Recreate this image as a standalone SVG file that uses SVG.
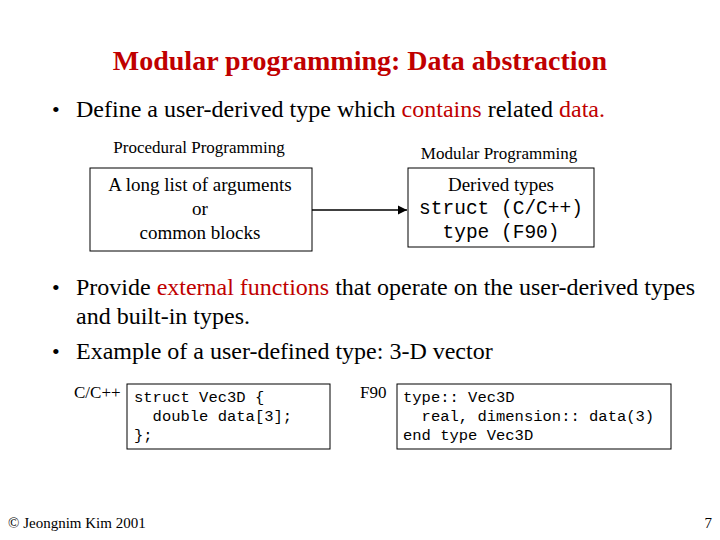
<svg xmlns="http://www.w3.org/2000/svg" width="720" height="540" viewBox="0 0 720 540">
<style>
.s{font-family:"Liberation Serif",serif;fill:#000}
.m{font-family:"Liberation Mono",monospace;fill:#000;white-space:pre}
.r{fill:#c00000}
.b{fill:#fff;stroke:#000;stroke-width:1}
</style>
<defs><marker id="a" viewBox="0 0 10 10" refX="10" refY="5" markerWidth="7" markerHeight="7" orient="auto"><path d="M0,0L10,5L0,10z" fill="#000"/></marker></defs>
<rect width="720" height="540" fill="#fff"/>
<text x="360" y="70" text-anchor="middle" class="s" font-size="28" font-weight="bold" style="fill:#c00000">Modular programming: Data abstraction</text>
<text x="52" y="117" class="s" font-size="22">•</text>
<text x="76" y="117" class="s" font-size="24" textLength="529">Define a user-derived type which <tspan class="r">contains</tspan> related <tspan class="r">data.</tspan></text>
<text x="199" y="153" text-anchor="middle" class="s" font-size="17">Procedural Programming</text>
<text x="499" y="159" text-anchor="middle" class="s" font-size="17">Modular Programming</text>
<g id="proc"><rect class="b" x="90" y="168" width="222" height="83"/>
<text x="200" y="191" text-anchor="middle" class="s" font-size="19">A long list of arguments</text>
<text x="200" y="215" text-anchor="middle" class="s" font-size="19">or</text>
<text x="200" y="239" text-anchor="middle" class="s" font-size="19">common blocks</text></g>
<g id="mod"><rect class="b" x="408" y="168" width="186" height="79"/>
<text x="501" y="191" text-anchor="middle" class="s" font-size="19">Derived types</text>
<text x="501" y="214" text-anchor="middle" class="m" font-size="19.5">struct (C/C++)</text>
<text x="501" y="238" text-anchor="middle" class="m" font-size="19.5">type (F90)</text></g>
<g id="connectors"><line x1="312" y1="210" x2="407" y2="210" stroke="#000" stroke-width="1.3" marker-end="url(#a)"/></g>
<text x="52" y="295" class="s" font-size="22">•</text>
<text x="76" y="295" class="s" font-size="24" textLength="619">Provide <tspan class="r">external functions</tspan> that operate on the user-derived types</text>
<text x="76" y="324" class="s" font-size="24">and built-in types.</text>
<text x="52" y="359" class="s" font-size="22">•</text>
<text x="76" y="359" class="s" font-size="24">Example of a user-defined type: 3-D vector</text>
<text x="74" y="398" class="s" font-size="17">C/C++</text>
<g id="c"><rect class="b" x="127" y="384" width="203" height="65"/>
<text x="134" y="402" class="m" font-size="15.5" xml:space="preserve">struct Vec3D {</text>
<text x="134" y="421" class="m" font-size="15.5" xml:space="preserve">  double data[3];</text>
<text x="134" y="440" class="m" font-size="15.5" xml:space="preserve">};</text></g>
<text x="360" y="398" class="s" font-size="17">F90</text>
<g id="f"><rect class="b" x="397" y="384" width="274" height="65"/>
<text x="403" y="402" class="m" font-size="15.5" xml:space="preserve">type:: Vec3D</text>
<text x="403" y="421" class="m" font-size="15.5" xml:space="preserve">  real, dimension:: data(3)</text>
<text x="403" y="440" class="m" font-size="15.5" xml:space="preserve">end type Vec3D</text></g>
<text x="8" y="528" class="s" font-size="15">© Jeongnim Kim 2001</text>
<text x="712" y="528" text-anchor="end" class="s" font-size="15">7</text>
</svg>
